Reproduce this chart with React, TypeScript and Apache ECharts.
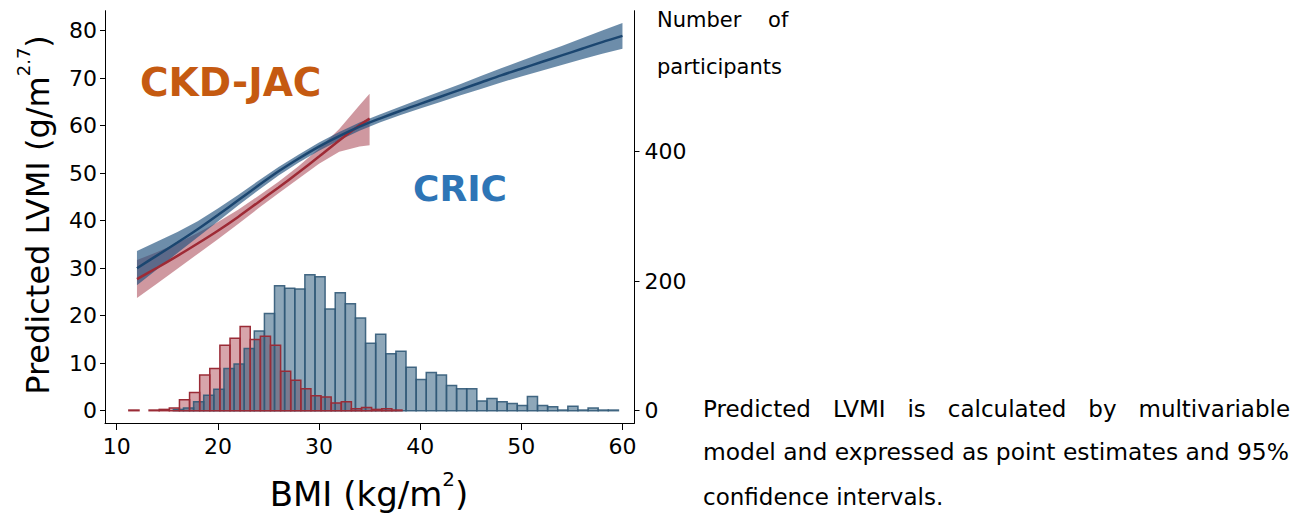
import React, { useEffect, useRef } from 'react';
import * as echarts from 'echarts';

const FONT = '"DejaVu Sans", sans-serif';

const xTicks = [10, 20, 30, 40, 50, 60];
const lvmiTicks = [0, 10, 20, 30, 40, 50, 60, 70, 80];
const countTicks = [0, 200, 400];

const binWidth = 1;
const cricFirstEdge = 15.6;
const cricCounts = [2, 4, 14, 24, 33, 65, 72, 96, 123, 150, 193, 189, 188, 210, 207, 157, 182, 165, 143, 104, 118, 88, 92, 67, 48, 59, 55, 39, 34, 34, 15, 19, 14, 11, 8, 22, 8, 6, 1, 7, 1, 4, 1, 1];
const ckdFirstEdge = 11.2;
const ckdCounts = [1, 0, 1, 2, 4, 17, 28, 55, 65, 101, 112, 130, 110, 115, 101, 61, 47, 34, 23, 21, 12, 14, 3, 5, 2, 3, 1];

const cricBMI = [12, 14, 16, 18, 20, 22, 24, 26, 28, 30, 32, 34, 36, 38, 40, 42, 44, 46, 48, 50, 52, 54, 56, 58, 60];
const cricFit = [30.0, 32.7, 35.4, 38.2, 41.2, 44.3, 47.4, 50.4, 53.1, 55.6, 57.8, 59.8, 61.5, 63.1, 64.6, 66.1, 67.6, 69.1, 70.6, 72.0, 73.4, 74.8, 76.2, 77.6, 78.9];
const cricLo = [26.4, 29.8, 33.2, 36.5, 39.85, 43.2, 46.4, 49.5, 52.25, 54.75, 56.95, 58.95, 60.65, 62.2, 63.6, 65.0, 66.4, 67.75, 69.1, 70.35, 71.55, 72.8, 74.0, 75.15, 76.2];
const cricHi = [33.6, 35.6, 37.6, 39.9, 42.55, 45.4, 48.4, 51.3, 53.95, 56.45, 58.65, 60.65, 62.35, 64.0, 65.6, 67.2, 68.8, 70.45, 72.1, 73.65, 75.25, 76.8, 78.4, 80.05, 81.6];

const ckdBMI = [12, 14, 16, 18, 20, 22, 24, 26, 28, 30, 32, 34, 35];
const ckdFit = [27.7, 30.1, 32.6, 35.2, 37.9, 40.8, 43.9, 47.0, 50.2, 53.5, 56.9, 60.1, 61.5];
const ckdLo = [23.7, 26.8, 29.9, 33.0, 36.1, 39.3, 42.6, 45.8, 48.9, 52.0, 54.5, 55.6, 55.9];
const ckdHi = [31.7, 33.4, 35.3, 37.4, 39.7, 42.3, 45.2, 48.2, 51.5, 55.2, 59.3, 64.3, 66.7];

function histData(first: number, counts: number[]) {
  return counts
    .map((c, i) => [first + i * binWidth, first + (i + 1) * binWidth, c])
    .filter((d) => d[2] > 0);
}

const histRender = (fill: string, stroke: string, lw: number) => (params: any, api: any) => {
  const a = api.coord([api.value(0), api.value(2)]);
  const b = api.coord([api.value(1), 0]);
  return {
    type: 'rect',
    shape: { x: a[0], y: a[1], width: b[0] - a[0], height: b[1] - a[1] },
    style: { fill, stroke, lineWidth: lw },
  };
};

const bandRender = (xs: number[], lo: number[], hi: number[], fill: string) => (params: any, api: any) => {
  if (params.dataIndex !== 0) return null;
  const pts: number[][] = [];
  xs.forEach((x, i) => pts.push(api.coord([x, hi[i]])));
  for (let i = xs.length - 1; i >= 0; i--) pts.push(api.coord([xs[i], lo[i]]));
  return { type: 'polygon', shape: { points: pts }, style: { fill } };
};

export default function App() {
  const ref = useRef<HTMLDivElement>(null);
  useEffect(() => {
    document.body.style.margin = '0';
    const chart = echarts.init(ref.current!, null, { renderer: 'svg' });
    const label = { fontFamily: FONT, fontSize: 22, color: '#000' };
    const axisLine = { show: true, onZero: false, lineStyle: { color: '#000', width: 1 } };
    chart.setOption({
      animation: false,
      backgroundColor: '#fff',
      grid: { left: 105, right: 672.5, top: 10.7, bottom: 92, outerBoundsMode: 'none' },
      xAxis: {
        type: 'value', min: 8.84, max: 61.19,
        axisLine,
        axisTick: { show: true, length: 7, lineStyle: { color: '#000' }, customValues: xTicks },
        axisLabel: { ...label, margin: 12, customValues: xTicks },
        splitLine: { show: false },
      },
      yAxis: [
        {
          type: 'value', min: -2.59, max: 84.21, position: 'left',
          axisLine,
          axisTick: { show: true, length: 5, lineStyle: { color: '#000' }, customValues: lvmiTicks },
          axisLabel: { ...label, margin: 8, customValues: lvmiTicks },
          splitLine: { show: false },
        },
        {
          type: 'value', min: -19.0, max: 617.8, position: 'right',
          axisLine,
          axisTick: { show: true, length: 5, lineStyle: { color: '#000' }, customValues: countTicks },
          axisLabel: { ...label, margin: 10, customValues: countTicks },
          splitLine: { show: false },
        },
      ],
      series: [
        {
          type: 'custom', name: 'CKD-JAC fill', yAxisIndex: 1,
          data: histData(ckdFirstEdge, ckdCounts), encode: { x: [0, 1], y: 2 },
          renderItem: histRender('rgba(160,40,55,0.42)', 'none', 0),
        },
        {
          type: 'custom', name: 'CRIC', yAxisIndex: 1,
          data: histData(cricFirstEdge, cricCounts), encode: { x: [0, 1], y: 2 },
          renderItem: histRender('rgba(30,80,115,0.5)', 'rgba(50,90,120,0.9)', 1.5),
        },
        {
          type: 'custom', name: 'CKD-JAC border', yAxisIndex: 1,
          data: histData(ckdFirstEdge, ckdCounts), encode: { x: [0, 1], y: 2 },
          renderItem: histRender('none', '#9a2b36', 1.5),
        },
        {
          type: 'custom', name: 'CKD-JAC CI', yAxisIndex: 0,
          data: [[ckdBMI[0], ckdLo[0]]],
          renderItem: bandRender(ckdBMI, ckdLo, ckdHi, 'rgba(160,50,65,0.5)'),
        },
        {
          type: 'line', name: 'CKD-JAC fit', yAxisIndex: 0, symbol: 'none', smooth: 0.3,
          data: ckdBMI.map((x, i) => [x, ckdFit[i]]),
          lineStyle: { color: '#9e2a35', width: 2.5 },
        },
        {
          type: 'custom', name: 'CRIC CI', yAxisIndex: 0,
          data: [[cricBMI[0], cricLo[0]]],
          renderItem: bandRender(cricBMI, cricLo, cricHi, 'rgba(30,80,125,0.65)'),
        },
        {
          type: 'line', name: 'CRIC fit', yAxisIndex: 0, symbol: 'none', smooth: 0.3,
          data: cricBMI.map((x, i) => [x, cricFit[i]]),
          lineStyle: { color: '#1b4670', width: 2.5 },
        },
      ],
      graphic: [
        {
          type: 'text', x: 140, y: 82,
          style: { text: 'CKD-JAC', fontFamily: FONT, fontSize: 39, fontWeight: 'bold', fill: '#C55A11', textAlign: 'left', textVerticalAlign: 'middle' },
        },
        {
          type: 'text', x: 413, y: 188,
          style: { text: 'CRIC', fontFamily: FONT, fontSize: 36, fontWeight: 'bold', fill: '#2E75B6', textAlign: 'left', textVerticalAlign: 'middle' },
        },
        {
          type: 'text', x: 34, y: 215, rotation: Math.PI / 2,
          style: {
            text: '{a|Predicted LVMI (g/m}{s|2.7}{a|)}',
            textAlign: 'center', textVerticalAlign: 'middle', fill: '#000',
            rich: {
              a: { fontFamily: FONT, fontSize: 32, lineHeight: 40, verticalAlign: 'bottom', fill: '#000' },
              s: { fontFamily: FONT, fontSize: 18, lineHeight: 20, verticalAlign: 'top', fill: '#000' },
            },
          },
        },
        {
          type: 'text', x: 369, y: 490,
          style: {
            text: '{a|BMI (kg/m}{s|2}{a|)}',
            textAlign: 'center', textVerticalAlign: 'middle', fill: '#000',
            rich: {
              a: { fontFamily: FONT, fontSize: 34, lineHeight: 42, verticalAlign: 'bottom', fill: '#000' },
              s: { fontFamily: FONT, fontSize: 20, lineHeight: 20, verticalAlign: 'top', fill: '#000' },
            },
          },
        },
        {
          type: 'text', x: 657, y: 20,
          style: { text: 'Number    of', fontFamily: FONT, fontSize: 21, fill: '#000', textAlign: 'left', textVerticalAlign: 'middle' },
        },
        {
          type: 'text', x: 657, y: 67,
          style: { text: 'participants', fontFamily: FONT, fontSize: 21, fill: '#000', textAlign: 'left', textVerticalAlign: 'middle' },
        },
        {
          type: 'text', x: 703, y: 409,
          style: { text: 'Predicted   LVMI   is   calculated   by   multivariable', fontFamily: FONT, fontSize: 23, fill: '#000', textAlign: 'left', textVerticalAlign: 'middle' },
        },
        {
          type: 'text', x: 703, y: 452,
          style: { text: 'model and expressed as point estimates and 95%', fontFamily: FONT, fontSize: 23.4, fill: '#000', textAlign: 'left', textVerticalAlign: 'middle' },
        },
        {
          type: 'text', x: 703, y: 497,
          style: { text: 'confidence intervals.', fontFamily: FONT, fontSize: 23, fill: '#000', textAlign: 'left', textVerticalAlign: 'middle' },
        },
      ],
    });
    return () => chart.dispose();
  }, []);
  return <div ref={ref} style={{ width: 1307, height: 515 }} />;
}
